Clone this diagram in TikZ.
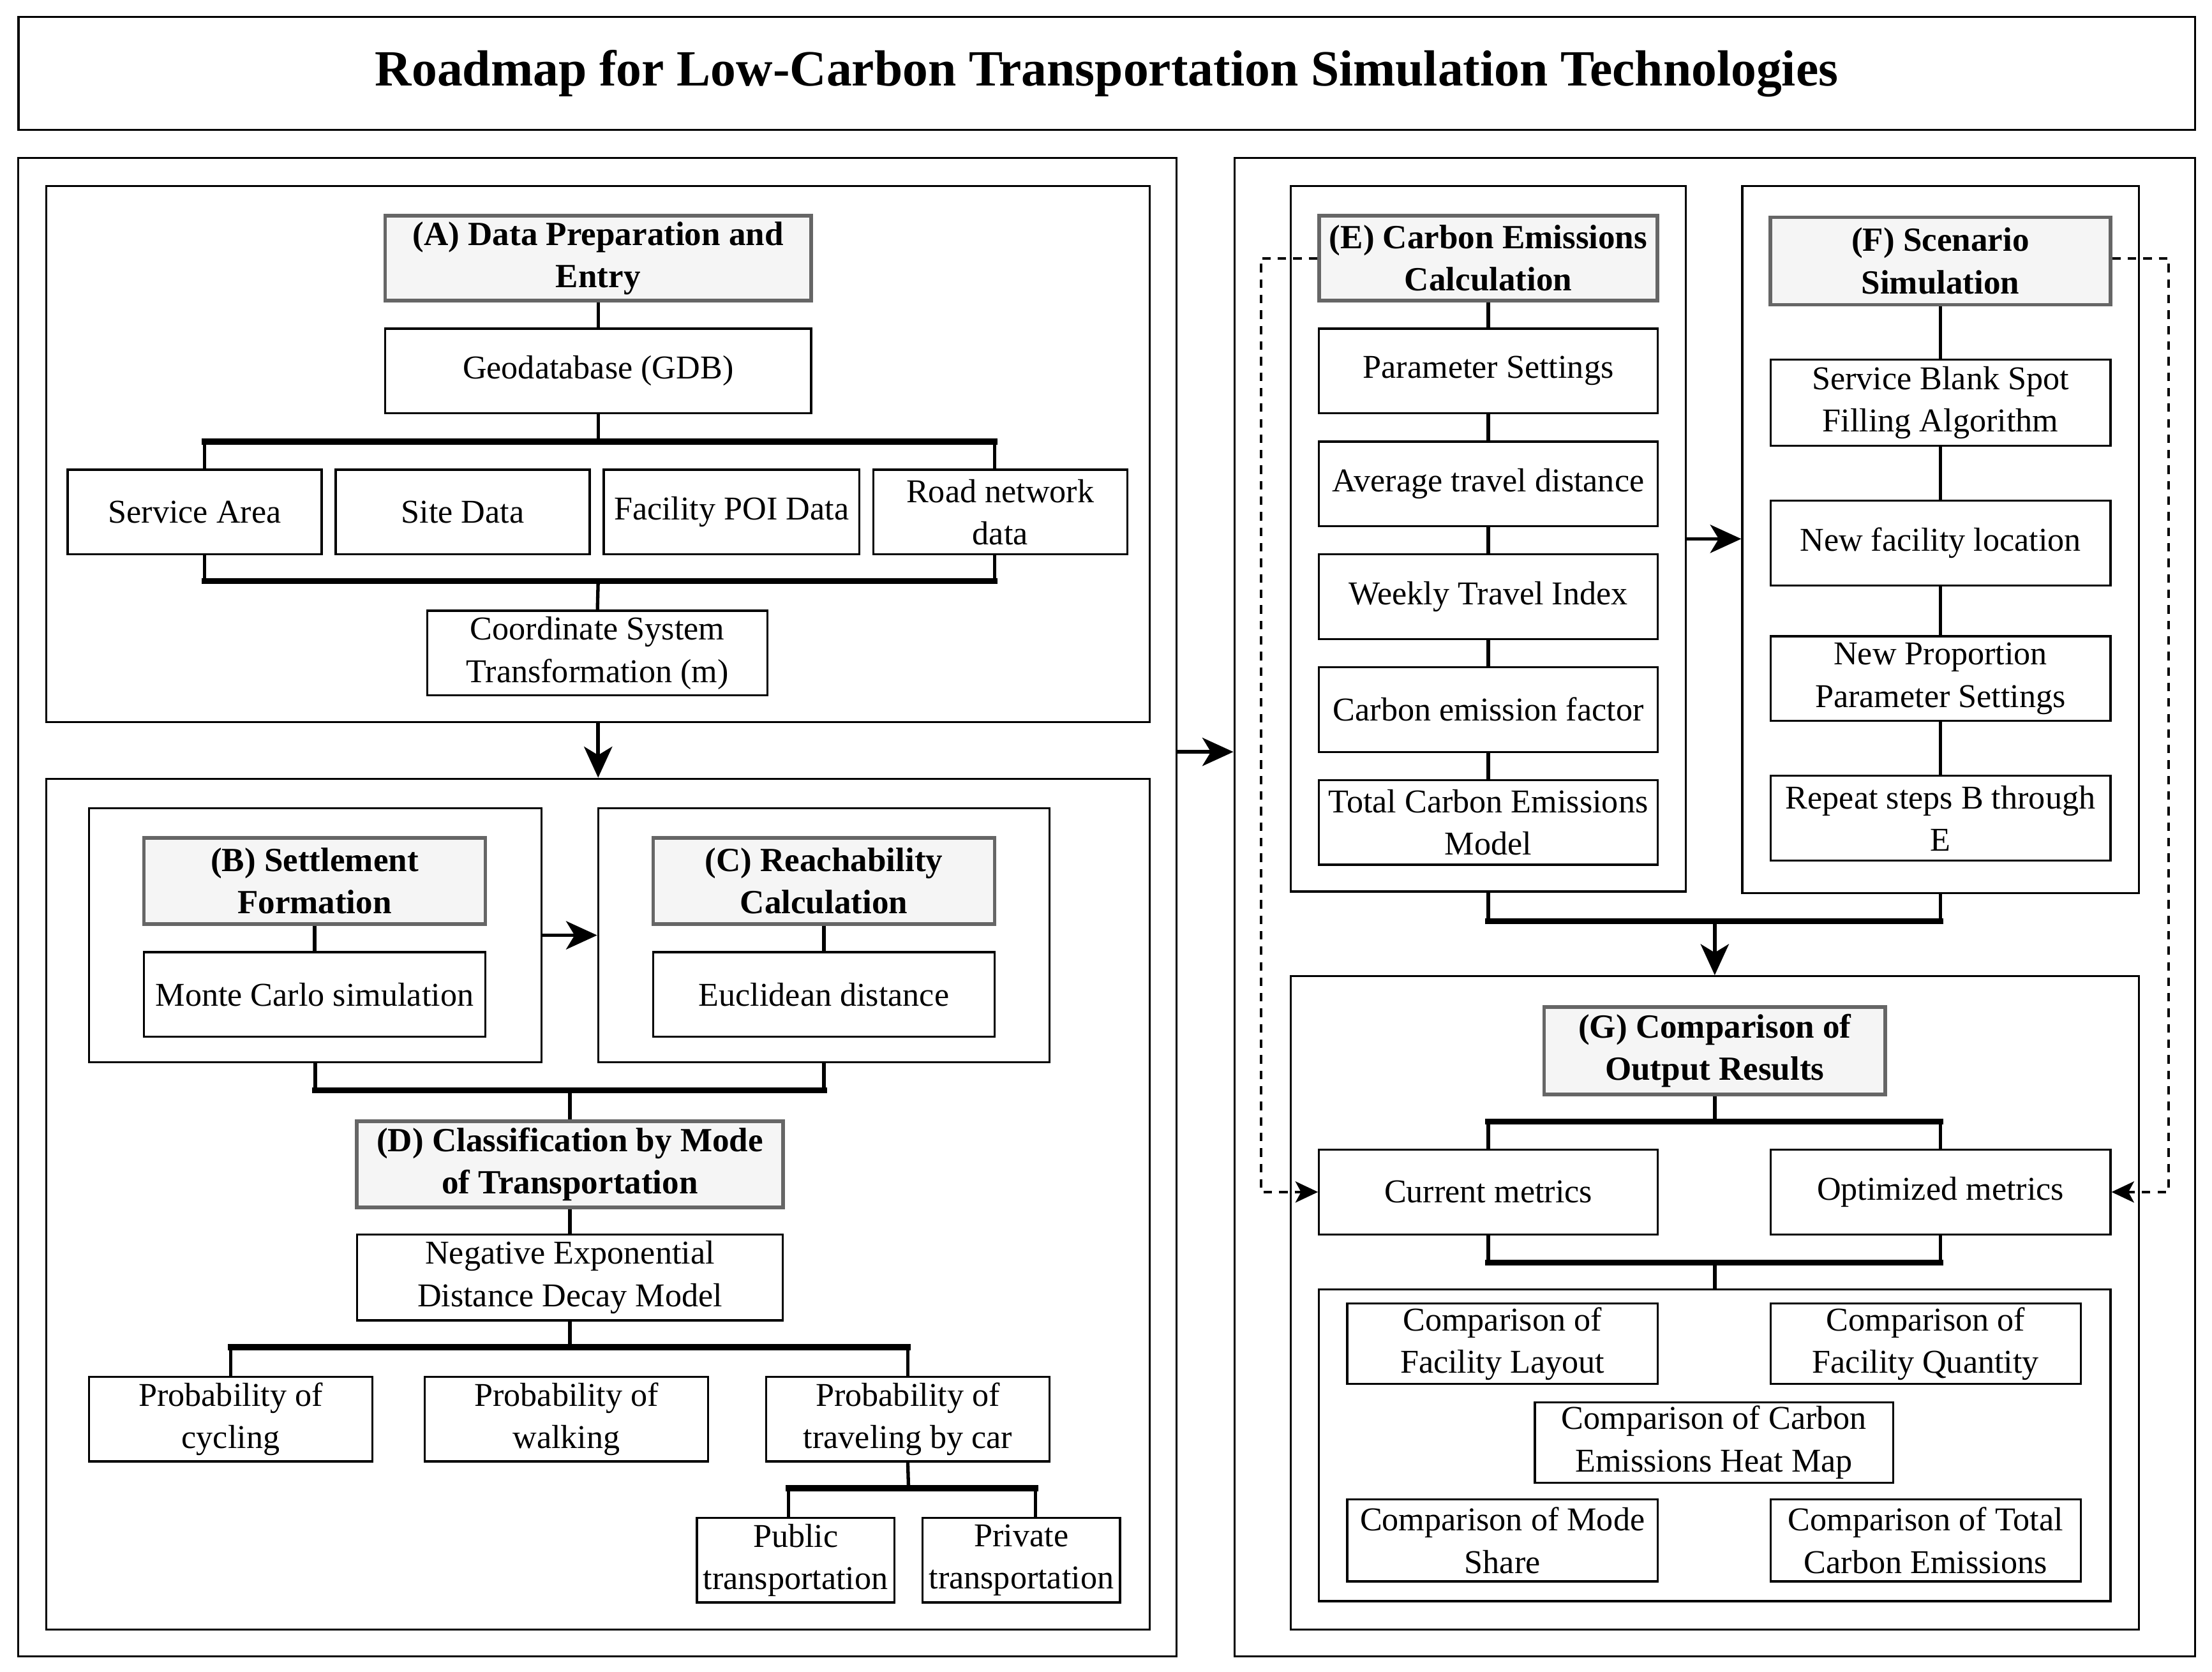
\documentclass[tikz,border=0pt]{standalone}
\usepackage{fontspec}
\setmainfont{Liberation Serif}
\usetikzlibrary{arrows.meta,calc}
\begin{document}
\begin{tikzpicture}[x=1pt,y=-1pt,
 box/.style={draw, line width=1.5pt, align=center, inner sep=0pt, fill=white, font=\fontsize{23.6}{30}\selectfont},
 head/.style={draw=black!60, line width=2.6pt, fill=black!4, align=center, inner sep=0pt, font=\fontsize{24}{30}\selectfont\bfseries},
 panel/.style={draw, line width=1.4pt, inner sep=0pt},
 conn/.style={line width=2.4pt},
 bus/.style={line width=4.2pt, line cap=rect},
 arr/.style={line width=2.6pt, -{Stealth[length=22pt,width=20pt,inset=6pt]}},
 darr/.style={line width=1.8pt, dash pattern=on 6pt off 5pt, -{Stealth[length=16pt,width=15pt,inset=4pt]}},
]
\useasboundingbox (0,0) rectangle (1568,1185);

% title
\node[draw, line width=1.6pt, minimum width=1543pt, minimum height=80pt, inner sep=0pt,
      font=\fontsize{36}{40}\selectfont\bfseries] (title) at (784.5,52)
      {Roadmap for Low-Carbon Transportation Simulation Technologies};

% panels
\node[panel, minimum width=821pt, minimum height=1062pt] (Lp) at (423.5,643) {};
\node[panel, minimum width=681pt, minimum height=1062pt] (Rp) at (1215.5,643) {};
\coordinate (mid) at (0,533);
\draw[arr] (Lp.east |- mid) -- (Rp.west |- mid);

% ---------- A ----------
\node[panel, minimum width=782pt, minimum height=380pt] (Abox) at (424,322) {};
\node[head, minimum width=302pt, minimum height=60pt] (Ah) at (424,183) {(A) Data Preparation and\\Entry};
\node[box, minimum width=302pt, minimum height=60pt] (gdb) at (424,263) {Geodatabase (GDB)};
\node[box, minimum width=180pt, minimum height=60pt] (sa) at (138,363) {Service Area};
\node[box, minimum width=180pt, minimum height=60pt] (sd) at (328,363) {Site Data};
\node[box, minimum width=181pt, minimum height=60pt] (poi) at (518.5,363) {Facility POI Data};
\node[box, minimum width=180pt, minimum height=60pt] (road) at (709,363) {Road network\\data};
\node[box, minimum width=241pt, minimum height=60pt] (coord) at (423.5,463) {Coordinate System\\Transformation (m)};
\draw[conn] (Ah) -- (gdb);
\coordinate (aT) at (424,313);
\coordinate (aL) at (145,313);
\coordinate (aR) at (705,313);
\draw[conn] (gdb.south) -- (aT);
\draw[conn] (aL) -- (aL |- sa.north);
\draw[conn] (aR) -- (aR |- road.north);
\draw[bus] (aL) -- (aR);
\coordinate (aB) at (424,412);
\coordinate (aL2) at (145,412);
\coordinate (aR2) at (705,412);
\draw[conn] (aL |- sa.south) -- (aL2);
\draw[conn] (aR |- road.south) -- (aR2);
\draw[bus] (aL2) -- (aR2);
\draw[conn] (aB) -- (coord.north);

% ---------- B C D ----------
\node[panel, minimum width=782pt, minimum height=603pt] (BD) at (424,853.5) {};
\draw[arr] (Abox.south) -- (BD.north);
\node[panel, minimum width=321pt, minimum height=180pt] (Bbox) at (223.5,663) {};
\node[head, minimum width=242pt, minimum height=61pt] (Bh) at (223,624.5) {(B) Settlement\\Formation};
\node[box, minimum width=242pt, minimum height=60pt] (mc) at (223,705) {Monte Carlo simulation};
\node[panel, minimum width=320pt, minimum height=180pt] (Cbox) at (584,663) {};
\node[head, minimum width=242pt, minimum height=61pt] (Ch) at (584,624.5) {(C) Reachability\\Calculation};
\node[box, minimum width=242pt, minimum height=60pt] (eu) at (584,705) {Euclidean distance};
\draw[conn] (Bh) -- (mc);
\draw[conn] (Ch) -- (eu);
\draw[arr] (Bbox.east) -- (Cbox.west);
\coordinate (bcB) at (404,773);
\draw[conn] (Bbox.south) -- (Bbox.south |- bcB);
\draw[conn] (Cbox.south) -- (Cbox.south |- bcB);
\draw[bus] (Bbox.south |- bcB) -- (Cbox.south |- bcB);

\node[head, minimum width=302pt, minimum height=61pt] (Dh) at (404,825.5) {(D) Classification by Mode\\of Transportation};
\node[box, minimum width=302pt, minimum height=61pt] (nedd) at (404,905.5) {Negative Exponential\\Distance Decay Model};
\draw[conn] (bcB) -- (Dh.north);
\draw[conn] (Dh) -- (nedd);
\node[box, minimum width=201pt, minimum height=60pt] (pc) at (163.5,1006) {Probability of\\cycling};
\node[box, minimum width=201pt, minimum height=60pt] (pw) at (401.5,1006) {Probability of\\walking};
\node[box, minimum width=201pt, minimum height=60pt] (pcar) at (643.5,1006) {Probability of\\traveling by car};
\coordinate (dB) at (404,955);
\draw[conn] (nedd.south) -- (dB);
\draw[conn] (pc.north |- dB) -- (pc.north);
\draw[conn] (pcar.north |- dB) -- (pcar.north);
\draw[bus] (pc.north |- dB) -- (pcar.north |- dB);
\node[box, minimum width=140pt, minimum height=60pt] (pub) at (564,1106) {Public\\transportation};
\node[box, minimum width=140pt, minimum height=60pt] (priv) at (724,1106) {Private\\transportation};
\coordinate (cB) at (644,1055);
\coordinate (cBL) at (559,1055);
\coordinate (cBR) at (734,1055);
\draw[conn] (pcar.south) -- (cB);
\draw[conn] (cBL) -- (cBL |- pub.north);
\draw[conn] (cBR) -- (cBR |- priv.north);
\draw[bus] (cBL) -- (cBR);

% ---------- E ----------
\node[panel, minimum width=280pt, minimum height=500pt] (Ebox) at (1055,382) {};
\node[head, minimum width=240pt, minimum height=60pt] (Eh) at (1055,183) {(E) Carbon Emissions\\Calculation};
\node[box, minimum width=240pt, minimum height=60pt] (e1) at (1055,263) {Parameter Settings};
\node[box, minimum width=240pt, minimum height=60pt] (e2) at (1055,343) {Average travel distance};
\node[box, minimum width=240pt, minimum height=60pt] (e3) at (1055,423) {Weekly Travel Index};
\node[box, minimum width=240pt, minimum height=60pt] (e4) at (1055,503) {Carbon emission factor};
\node[box, minimum width=240pt, minimum height=60pt] (e5) at (1055,583) {Total Carbon Emissions\\Model};
\draw[conn] (Eh) -- (e1);
\draw[conn] (e1) -- (e2);
\draw[conn] (e2) -- (e3);
\draw[conn] (e3) -- (e4);
\draw[conn] (e4) -- (e5);

% ---------- F ----------
\node[panel, minimum width=281pt, minimum height=501pt] (Fbox) at (1375.5,382.5) {};
\node[head, minimum width=241pt, minimum height=62pt] (Fh) at (1375.5,185) {(F) Scenario\\Simulation};
\node[box, minimum width=241pt, minimum height=61pt] (f1) at (1375.5,285.5) {Service Blank Spot\\Filling Algorithm};
\node[box, minimum width=241pt, minimum height=60pt] (f2) at (1375.5,385) {New facility location};
\node[box, minimum width=241pt, minimum height=60pt] (f3) at (1375.5,481) {New Proportion\\Parameter Settings};
\node[box, minimum width=241pt, minimum height=60pt] (f4) at (1375.5,580) {Repeat steps B through\\E};
\draw[conn] (Fh) -- (f1);
\draw[conn] (f1) -- (f2);
\draw[conn] (f2) -- (f3);
\draw[conn] (f3) -- (f4);
\draw[arr] (Ebox.east) -- (Ebox.east -| Fbox.west);

% ---------- G ----------
\node[panel, minimum width=601pt, minimum height=463pt] (Gbox) at (1215.5,923.5) {};
\coordinate (efB) at (1215.5,653);
\draw[conn] (Ebox.south) -- (Ebox.south |- efB);
\draw[conn] (Fbox.south) -- (Fbox.south |- efB);
\draw[bus] (Ebox.south |- efB) -- (Fbox.south |- efB);
\draw[arr] (efB) -- (Gbox.north);

\node[head, minimum width=242pt, minimum height=62pt] (Gh) at (1215.5,745) {(G) Comparison of\\Output Results};
\node[box, minimum width=240pt, minimum height=60pt] (cur) at (1055,845) {Current metrics};
\node[box, minimum width=241pt, minimum height=60pt] (opt) at (1375.5,845) {Optimized metrics};
\coordinate (gB) at (1215.5,795);
\draw[conn] (Gh.south) -- (gB);
\draw[conn] (cur.north |- gB) -- (cur.north);
\draw[conn] (opt.north |- gB) -- (opt.north);
\draw[bus] (cur.north |- gB) -- (opt.north |- gB);

\node[panel, line width=1.5pt, minimum width=561pt, minimum height=221pt] (Cmp) at (1215.5,1024.5) {};
\coordinate (gB2) at (1215.5,895);
\draw[conn] (cur.south) -- (cur.south |- gB2);
\draw[conn] (opt.south) -- (opt.south |- gB2);
\draw[bus] (cur.south |- gB2) -- (opt.south |- gB2);
\draw[conn] (gB2) -- (Cmp.north);

\node[box, minimum width=220pt, minimum height=57pt] (c1) at (1065,952.5) {Comparison of\\Facility Layout};
\node[box, minimum width=220pt, minimum height=57pt] (c2) at (1365,952.5) {Comparison of\\Facility Quantity};
\node[box, minimum width=254pt, minimum height=57pt] (c3) at (1215,1022.5) {Comparison of Carbon\\Emissions Heat Map};
\node[box, minimum width=220pt, minimum height=58pt] (c4) at (1065,1092) {Comparison of Mode\\Share};
\node[box, minimum width=220pt, minimum height=58pt] (c5) at (1365,1092) {Comparison of Total\\Carbon Emissions};

% dashed feedback
\draw[darr] (Eh.west) -- ++(-40,0) |- (cur.west);
\draw[darr] (Fh.east |- Eh.east) -- ++(40,0) |- (opt.east);
\end{tikzpicture}
\end{document}
